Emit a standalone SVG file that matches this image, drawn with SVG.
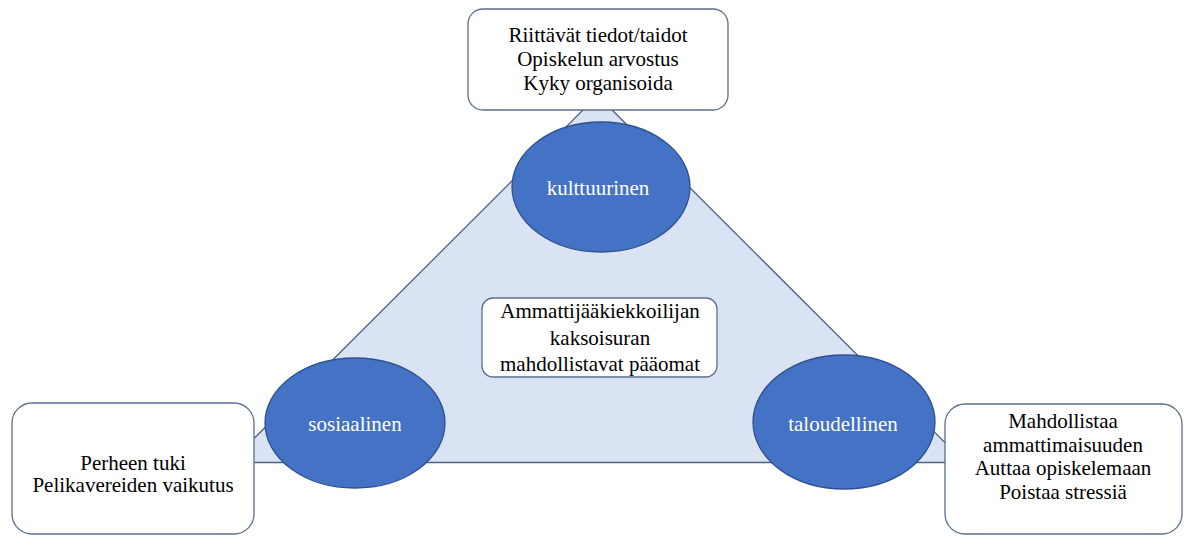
<svg xmlns="http://www.w3.org/2000/svg" width="1184" height="536" viewBox="0 0 1184 536">
<style>
text{font-family:'Liberation Serif','DejaVu Serif',serif;font-size:21px;text-anchor:middle}
.txt{fill:#000}
.wt{fill:#fff}
.box{fill:#fff;stroke:#5b6f8c;stroke-width:1.3}
.ell{fill:#4472c4;stroke:#2f528f;stroke-width:1.3}
</style>
<rect width="1184" height="536" fill="#fff"/>
<g id="connectors">
<polygon points="597.5,95.5 230,462.5 965,462.5" fill="#dae3f3" stroke="#4e6282" stroke-width="1.3"/>
</g>
<g id="node-center">
<rect class="box" x="482" y="298" width="235" height="79" rx="11"/>
<text class="txt" x="600" y="318" font-family="Liberation Serif">Ammattijääkiekkoilijan</text>
<text class="txt" x="600" y="345" font-family="Liberation Serif">kaksoisuran</text>
<text class="txt" x="600" y="371" font-family="Liberation Serif">mahdollistavat pääomat</text>
</g>
<g id="node-top">
<rect class="box" x="468" y="9" width="260" height="101" rx="15"/>
<text class="txt" x="598" y="42">Riittävät tiedot/taidot</text>
<text class="txt" x="598" y="66">Opiskelun arvostus</text>
<text class="txt" x="598" y="90">Kyky organisoida</text>
</g>
<g id="node-left">
<rect class="box" x="12" y="403" width="242" height="131" rx="20"/>
<text class="txt" x="133" y="470">Perheen tuki</text>
<text class="txt" x="133" y="492">Pelikavereiden vaikutus</text>
</g>
<g id="node-right">
<rect class="box" x="945" y="404" width="237" height="130" rx="20"/>
<text class="txt" x="1063" y="428">Mahdollistaa</text>
<text class="txt" x="1063" y="452">ammattimaisuuden</text>
<text class="txt" x="1063" y="475">Auttaa opiskelemaan</text>
<text class="txt" x="1063" y="499">Poistaa stressiä</text>
</g>
<g id="node-kulttuurinen">
<ellipse class="ell" cx="601" cy="187" rx="89" ry="65"/>
<text class="wt" x="598" y="195">kulttuurinen</text>
</g>
<g id="node-sosiaalinen">
<ellipse class="ell" cx="355" cy="423" rx="90" ry="65"/>
<text class="wt" x="355" y="431">sosiaalinen</text>
</g>
<g id="node-taloudellinen">
<ellipse class="ell" cx="844" cy="422" rx="91" ry="67"/>
<text class="wt" x="843" y="431">taloudellinen</text>
</g>
</svg>
